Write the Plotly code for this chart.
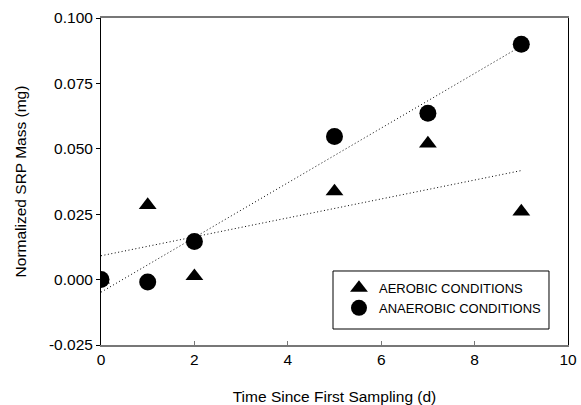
import numpy as np
import plotly.graph_objects as go

days = [0, 1, 2, 5, 7, 9]
aerobic = [0.0, 0.0285, 0.0013, 0.0337, 0.0520, 0.0260]
anaerobic = [0.0, -0.0009, 0.0146, 0.0547, 0.0636, 0.0900]
x_ticks = [0, 2, 4, 6, 8, 10]
y_ticks = [-0.025, 0.0, 0.025, 0.050, 0.075, 0.100]
y_tick_labels = ["-0.025", "0.000", "0.025", "0.050", "0.075", "0.100"]

FONT = "Liberation Sans, Arial, sans-serif"
FS = 15.5

fig = go.Figure()

# regression lines
for ys in (aerobic, anaerobic):
    m, b = np.polyfit(days, ys, 1)
    xs = [min(days), max(days)]
    fig.add_trace(go.Scatter(
        x=xs, y=[m * v + b for v in xs], mode="lines",
        line=dict(color="black", width=1, dash="1px,2.5px"),
        showlegend=False, hoverinfo="skip"))

fig.add_trace(go.Scatter(
    x=days, y=aerobic, mode="markers", name="AEROBIC CONDITIONS",
    marker=dict(symbol="triangle-up", size=15.5, color="black")))
fig.add_trace(go.Scatter(
    x=days, y=anaerobic, mode="markers", name="ANAEROBIC CONDITIONS",
    marker=dict(symbol="circle", size=17, color="black")))

# legend frame
fig.add_shape(type="rect", xref="paper", yref="paper",
              x0=0.4968, x1=0.9593, y0=0.0489, y1=0.2263,
              line=dict(color="black", width=1), fillcolor="white",
              layer="above")

fig.update_layout(
    width=581, height=405,
    margin=dict(l=101, r=13, t=18, b=60),
    paper_bgcolor="white", plot_bgcolor="white",
    font=dict(family=FONT, size=FS, color="black"),
    legend=dict(
        x=0.5096, y=0.2202, xanchor="left", yanchor="top",
        borderwidth=0, bgcolor="rgba(0,0,0,0)",
        font=dict(size=13, family=FONT),
        tracegroupgap=0,
    ),
    xaxis=dict(
        range=[0, 10], tickvals=x_ticks, ticktext=[str(t) for t in x_ticks],
        showgrid=False, zeroline=False, automargin=False,
        showline=True, linecolor="#777777", linewidth=1.5, mirror=True,
        ticks="inside", ticklen=4, tickcolor="#777777", tickwidth=1,
        title=dict(text="Time Since First Sampling (d)", standoff=24,
                   font=dict(size=FS)),
        tickfont=dict(size=FS),
    ),
    yaxis=dict(
        range=[-0.025, 0.100], tickvals=y_ticks, ticktext=y_tick_labels,
        showgrid=False, zeroline=False, automargin=False,
        showline=True, linecolor="black", linewidth=1, mirror=True,
        ticks="outside", ticklen=4, tickcolor="black", tickwidth=1,
        title=dict(text="Normalized SRP Mass (mg)", standoff=18,
                   font=dict(size=FS)),
        tickfont=dict(size=FS),
    ),
)

fig.write_html("out.html", config={"displayModeBar": False},
               post_script="document.body.style.margin='0';document.body.style.padding='0';")
